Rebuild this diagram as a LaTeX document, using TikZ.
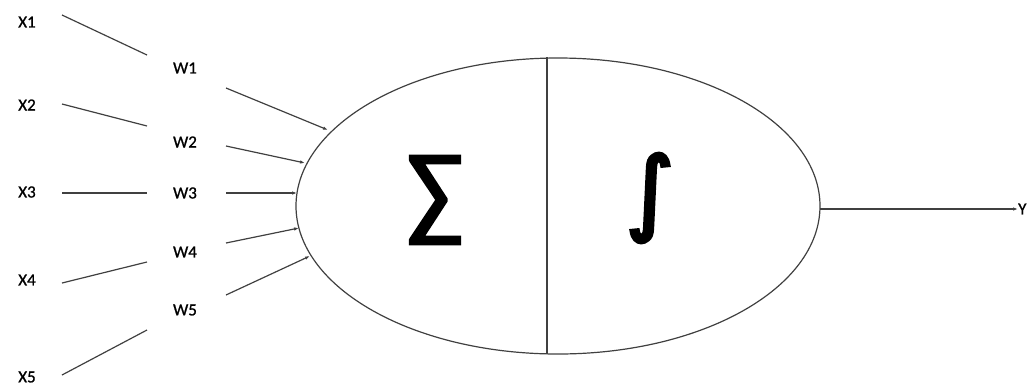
\documentclass[tikz,border=0pt]{standalone}
\usepackage{fontspec}
\setmainfont{Carlito}
\newfontfamily\lblfont{Carlito}[FakeBold=1]
\newfontfamily\sigfont{Carlito}[FakeBold=2]
\newfontfamily\symfont{DejaVu Sans}[FakeBold=4]
\usetikzlibrary{arrows.meta}
\begin{document}
\begin{tikzpicture}[x=1pt,y=-1pt,
  lbl/.style={inner sep=0pt,font=\lblfont\fontsize{17}{17}\selectfont},
  ln/.style={draw=black!75,line width=1.2pt},
  arr/.style={ln,-{Latex[length=5pt,width=3.5pt]}}]
\useasboundingbox (0,0) rectangle (1028,389);
% inputs
\node[lbl] (x1) at (27,22) {X1};
\node[lbl] (x2) at (27,105) {X2};
\node[lbl] (x3) at (27,192) {X3};
\node[lbl] (x4) at (27,280) {X4};
\node[lbl] (x5) at (27,377) {X5};
\node[lbl] (w1) at (185,68) {W1};
\node[lbl] (w2) at (185,142) {W2};
\node[lbl] (w3) at (185,193) {W3};
\node[lbl] (w4) at (185,252) {W4};
\node[lbl] (w5) at (185,310) {W5};
% neuron
\draw[ln] (558,206) ellipse [x radius=262, y radius=148];
\coordinate (dtop) at (547,57);
\coordinate (dbot) at (547,354);
\draw[ln] (dtop) -- (dbot);
\node[inner sep=0pt,font=\sigfont\fontsize{106}{106}\selectfont] (sig) at (435,200) {∑};
\node[inner sep=0pt,font=\symfont\fontsize{92}{92}\selectfont] (int) at (650,198) {∫};
% endpoints on ellipse
\coordinate (e1) at (328,130);
\coordinate (e2) at (305,163);
\coordinate (e3) at (297,193);
\coordinate (e4) at (299,228);
\coordinate (e5) at (310,256);
\coordinate (s1) at (62,15);  \coordinate (t1) at (147,55);
\coordinate (s2) at (62,104); \coordinate (t2) at (147,126);
\coordinate (s3) at (62,193); \coordinate (t3) at (147,193);
\coordinate (s4) at (62,283); \coordinate (t4) at (147,262);
\coordinate (s5) at (62,375); \coordinate (t5) at (147,330);
\draw[ln] (s1) -- (t1);
\draw[ln] (s2) -- (t2);
\draw[ln] (s3) -- (t3);
\draw[ln] (s4) -- (t4);
\draw[ln] (s5) -- (t5);
\coordinate (u1) at (226,88);
\coordinate (u2) at (226,146);
\coordinate (u3) at (226,193);
\coordinate (u4) at (226,243);
\coordinate (u5) at (226,295);
\draw[arr] (u1) -- (e1);
\draw[arr] (u2) -- (e2);
\draw[arr] (u3) -- (e3);
\draw[arr] (u4) -- (e4);
\draw[arr] (u5) -- (e5);
% output
\coordinate (eo) at (820,209);
\node[lbl,anchor=west] (y) at (1018,209) {Y};
\draw[arr] (eo) -- (y.west);
\end{tikzpicture}
\end{document}
